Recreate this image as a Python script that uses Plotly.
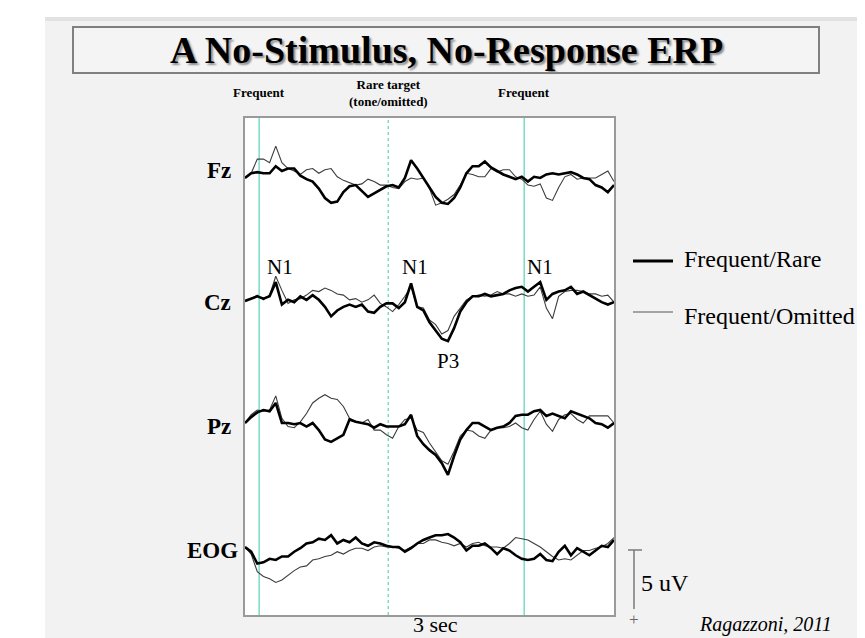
import plotly.graph_objects as go

# ---------------- data (uV, positive plotted downward) ----------------
TIME_MS = list(range(0, 3001, 50))
CHANNELS = ["Fz", "Cz", "Pz", "EOG"]
SERIES_NAMES = ["Frequent/Rare", "Frequent/Omitted"]
ONSETS_MS = [115, 1165, 2270]
ONSET_LABELS = ["Frequent", "Rare target<br>(tone/omitted)", "Frequent"]
PEAK_LABELS = ["N1", "N1", "N1", "P3"]

FZ_RARE = [0.0, -0.4, -0.5, -0.4, -0.4, -1.0, -0.6, -0.8, -0.8, -0.2,
           0.1, 0.3, 0.9, 1.7, 2.1, 2.0, 1.2, 0.7, 0.6, 1.1,
           1.6, 1.3, 1.0, 0.7, 0.6, 0.8, 0.0, -1.5, -0.8, 0.0,
           0.8, 1.6, 2.1, 2.2, 1.7, 0.8, -0.4, -1.0, -1.0, -1.4,
           -0.9, -0.6, -0.3, -0.1, 0.1, -0.1, 0.3, -0.1, 0.0, -0.3,
           -0.4, -0.3, -0.4, -0.5, -0.3, 0.0, 0.1, 0.6, 0.8, 1.2,
           0.6]
FZ_OMIT = [0.0, -0.4, -1.6, -1.6, -1.3, -2.7, -1.3, -0.8, -0.6, -0.3,
           -0.7, -0.8, -0.4, -0.7, -0.8, -0.1, 0.2, 0.4, 0.6, 0.5,
           0.1, 0.3, 0.6, 0.6, 0.8, 0.9, 0.3, 0.0, 0.1, 0.0,
           0.9, 2.3, 2.1, 1.8, 1.4, 0.6, -0.4, -0.3, -0.1, -0.1,
           -0.8, -0.5, -0.7, -0.7, -0.1, 0.1, 0.6, 0.7, 0.5, 1.7,
           1.9, 0.8, -0.1, -0.3, 0.1, 0.0, 0.0, 0.0, -0.3, -0.6,
           0.3]
CZ_RARE = [0.0, -0.2, -0.4, -0.2, -0.4, -1.6, 0.3, -0.1, 0.1, -0.4,
           -0.1, -0.5, -0.1, 0.5, 1.3, 0.8, 0.5, 0.3, 0.5, 0.3,
           0.9, 1.0, 0.5, 0.2, 0.2, 0.6, 0.1, -1.5, 0.5, 0.8,
           1.8, 2.5, 3.2, 3.4, 2.3, 0.9, 0.1, -0.4, -0.4, -0.6,
           -0.4, -0.5, -0.6, -0.9, -1.1, -1.2, -0.8, -1.2, -1.6, -0.1,
           -0.6, -0.8, -0.9, -1.2, -0.6, -0.8, -0.5, -0.2, 0.1, 0.3,
           0.1]
CZ_OMIT = [0.0, -0.2, -0.5, -0.1, -0.5, -2.1, -0.9, 0.2, -0.1, -0.2,
           -0.5, -0.9, -0.8, -1.1, -0.9, -0.6, -0.5, -0.1, -0.2, 0.1,
           -0.1, -0.5, 0.2, 0.5, 0.9, 0.3, -0.4, -1.2, 0.5, 0.6,
           1.6, 2.0, 2.8, 2.5, 1.3, 0.6, -0.1, -0.4, -0.5, -0.4,
           -0.5, -0.8, -0.6, -0.6, -0.4, -0.6, -0.4, -0.5, -1.2, 0.6,
           1.5, -0.4, -0.8, -0.9, -0.9, -0.8, -0.6, -0.6, -0.4, -0.5,
           0.1]
PZ_RARE = [0.0, -0.5, -0.9, -1.1, -1.0, -1.7, 0.0, 0.0, 0.1, 0.0,
           0.3, 0.0, 0.6, 1.4, 1.6, 1.3, 1.0, -0.3, -0.1, 0.0,
           0.1, 0.4, 0.1, 0.3, 0.3, 0.3, 0.1, -0.7, 1.1, 1.8,
           2.3, 2.7, 3.4, 4.4, 2.8, 1.4, 0.6, 0.0, 0.0, 0.3,
           0.6, 0.4, 0.3, 0.0, -0.6, -0.7, -0.7, -1.0, -1.1, -0.6,
           -0.8, -0.6, -0.4, -1.0, -0.8, -0.6, -0.4, 0.0, 0.1, 0.4,
           0.0]
PZ_OMIT = [0.0, -0.7, -1.1, -1.0, -1.1, -2.3, -0.4, 0.3, 0.4, -0.1,
           -0.8, -1.7, -2.1, -2.4, -2.1, -2.0, -1.4, -0.4, -0.1, 0.0,
           -0.3, 0.6, 0.6, 1.0, 1.3, 0.3, -0.3, -0.4, 0.6, 0.8,
           1.7, 2.5, 3.2, 3.5, 2.4, 1.1, 0.6, 0.7, 1.1, 1.3,
           0.6, 0.4, 0.4, 0.3, 0.0, 0.4, 0.6, -0.3, -1.0, 0.1,
           0.7, -0.3, -0.7, -0.8, -0.3, 0.0, -0.6, -0.6, -0.6, -0.6,
           0.0]
EOG_RARE = [0.0, 0.4, 1.4, 1.3, 1.0, 1.1, 0.8, 0.8, 0.4, 0.1,
            -0.3, -0.4, -0.7, -0.6, -1.0, -0.3, -0.6, -0.4, -0.8, -0.3,
            -0.1, -0.4, -0.3, -0.1, 0.0, 0.0, 0.4, 0.1, -0.3, -0.6,
            -0.8, -1.0, -1.0, -1.1, -0.8, -0.4, 0.3, -0.1, -0.1, -0.3,
            0.1, 0.6, 0.1, 0.3, 0.7, 1.0, 1.1, 1.0, 0.6, 1.1,
            1.2, 0.4, -0.1, 0.7, 0.1, 0.4, 0.7, 0.3, -0.1, 0.0,
            -0.6]
EOG_OMIT = [0.0, 0.6, 2.1, 2.5, 2.7, 3.0, 2.8, 2.4, 2.0, 1.7,
            1.6, 1.1, 1.0, 0.8, 0.7, 0.4, 0.6, 0.3, 0.1, 0.1,
            0.3, 0.0, -0.1, 0.0, 0.0, 0.1, 0.3, 0.0, -0.3, -0.3,
            -0.6, -0.6, -0.4, -0.3, -0.1, -0.3, 0.0, -0.3, -0.4, -0.1,
            0.0, 0.0, 0.1, -0.3, -0.8, -0.7, -0.6, -0.3, 0.0, 0.4,
            0.8, 1.1, 1.0, 1.1, 0.7, 0.3, 0.3, 0.1, 0.0, -0.3,
            -0.8]

RARE = [FZ_RARE, CZ_RARE, PZ_RARE, EOG_RARE]
OMIT = [FZ_OMIT, CZ_OMIT, PZ_OMIT, EOG_OMIT]
SCALE_UV = 5

# ---------------- layout geometry (page pixel coordinates) ----------------
PAGE_MARGIN = 8            # default body margin of the html page
W, H = 865 - PAGE_MARGIN, 638 - PAGE_MARGIN
PL, PR, PT, PB = 245, 614, 118, 615
UV_PER_PX = 5 / 59.0
Y_SPAN = (PB - PT) * UV_PER_PX
BASE_PX = [178, 301, 423, 547]
OFFSETS = [(b - PT) * UV_PER_PX for b in BASE_PX]

FONT = "Liberation Serif, Times New Roman, serif"
TEAL = "#78dcc3"


def px(x):
    return (x - PL) / (PR - PL)


def py(y):
    return (PB - y) / (PB - PT)


def uv_to_paper(u):
    return 1 - u / Y_SPAN


fig = go.Figure()
for ch, off, r, o in zip(CHANNELS, OFFSETS, RARE, OMIT):
    fig.add_trace(go.Scatter(x=TIME_MS, y=[off + v for v in o], mode="lines",
                             line=dict(color="#3c3c3c", width=1.1),
                             name=SERIES_NAMES[1], showlegend=False))
    fig.add_trace(go.Scatter(x=TIME_MS, y=[off + v for v in r], mode="lines",
                             line=dict(color="#000000", width=2.6),
                             name=SERIES_NAMES[0], showlegend=False))

shapes = []
# slide background
shapes.append(dict(type="rect", xref="paper", yref="paper", x0=px(45), x1=px(866),
                   y0=py(640), y1=py(17), fillcolor="#f2f2f2", line=dict(width=0), layer="below"))
shapes.append(dict(type="rect", xref="paper", yref="paper", x0=px(45), x1=px(866),
                   y0=py(21), y1=py(17), fillcolor="#e2e2e2", line=dict(width=0), layer="below"))
shapes.append(dict(type="rect", xref="paper", yref="paper", x0=px(857), x1=px(866),
                   y0=py(640), y1=py(17), fillcolor="#e6e6e6", line=dict(width=0), layer="below"))
# white plot area
shapes.append(dict(type="rect", xref="paper", yref="paper", x0=0, x1=1, y0=0, y1=1,
                   fillcolor="#ffffff", line=dict(width=0), layer="below"))
# title box
shapes.append(dict(type="rect", xref="paper", yref="paper", x0=px(73), x1=px(819),
                   y0=py(73), y1=py(27), fillcolor="#f4f4f4",
                   line=dict(color="#808080", width=2), layer="below"))
# stimulus onset lines
for i, t in enumerate(ONSETS_MS):
    shapes.append(dict(type="line", xref="x", yref="paper", x0=t, x1=t, y0=0, y1=1,
                       line=dict(color=TEAL, width=1.5, dash="dot" if i == 1 else "solid"),
                       layer="below"))
# legend lines
shapes.append(dict(type="line", xref="paper", yref="paper", x0=px(633), x1=px(673),
                   y0=py(261), y1=py(261), line=dict(color="#000", width=3)))
shapes.append(dict(type="line", xref="paper", yref="paper", x0=px(633), x1=px(673),
                   y0=py(312), y1=py(312), line=dict(color="#555", width=1.1)))
# scale bar
sb_top = (550 - PT) * UV_PER_PX
shapes.append(dict(type="line", xref="paper", yref="paper", x0=px(634), x1=px(634),
                   y0=uv_to_paper(sb_top), y1=uv_to_paper(sb_top + SCALE_UV),
                   line=dict(color="#7a7a7a", width=1.5)))
shapes.append(dict(type="line", xref="paper", yref="paper", x0=px(628), x1=px(642),
                   y0=uv_to_paper(sb_top), y1=uv_to_paper(sb_top),
                   line=dict(color="#7a7a7a", width=1.5)))

ann = []


def text(x, y, s, size, bold=False, italic=False, anchor="center", color="#000", shadow=None):
    if bold:
        s = "<b>" + s + "</b>"
    if italic:
        s = "<i>" + s + "</i>"
    f = dict(family=FONT, size=size, color=color)
    if shadow:
        f["shadow"] = shadow
    ann.append(dict(x=px(x), y=py(y), xref="paper", yref="paper", text=s, showarrow=False,
                    xanchor=anchor, yanchor="middle", font=f))


# title with soft shadow
text(446, 50, "A No-Stimulus, No-Response ERP", 38, bold=True, shadow="2px 2px 2px #8a8a8a")
# onset labels
for t, lab, yy in zip(ONSETS_MS, ONSET_LABELS, [92, 93, 92]):
    ann.append(dict(x=t, y=py(yy), xref="x", yref="paper", text="<b>" + lab + "</b>",
                    showarrow=False, xanchor="center", yanchor="middle",
                    font=dict(family=FONT, size=13, color="#000")))
# channel labels
for ch, yy, xr in zip(CHANNELS, [170, 302, 426, 550], [233, 233, 233, 240]):
    text(xr, yy, ch, 23, bold=True, anchor="right")
# peak labels
for lab, (xx, yy) in zip(PEAK_LABELS, [(280, 267), (415, 267), (540, 267), (448, 361)]):
    text(xx, yy, lab, 21)
# legend texts
text(682, 259, SERIES_NAMES[0], 24, anchor="left")
text(682, 316, SERIES_NAMES[1], 24, anchor="left")
# scale texts
text(639, 583, "%d uV" % SCALE_UV, 24, anchor="left")
text(634, 619, "+", 17, color="#666")
text(435, 624, "3 sec", 22)
text(765, 624, "Ragazzoni, 2011", 20, italic=True)

fig.update_layout(
    width=W, height=H,
    margin=dict(l=PL - PAGE_MARGIN, r=865 - PR, t=PT - PAGE_MARGIN, b=638 - PB, pad=0),
    paper_bgcolor="#ffffff", plot_bgcolor="#ffffff",
    showlegend=False,
    shapes=shapes, annotations=ann,
    xaxis=dict(range=[0, 3000], showgrid=False, zeroline=False, showticklabels=False,
               ticks="", showline=True, mirror=True, linecolor="#9a9a9a", linewidth=1.5,
               fixedrange=True),
    yaxis=dict(range=[Y_SPAN, 0], showgrid=False, zeroline=False, showticklabels=False,
               ticks="", showline=True, mirror=True, linecolor="#9a9a9a", linewidth=1.5,
               fixedrange=True),
)
fig.write_html("out.html", config={"displayModeBar": False})
